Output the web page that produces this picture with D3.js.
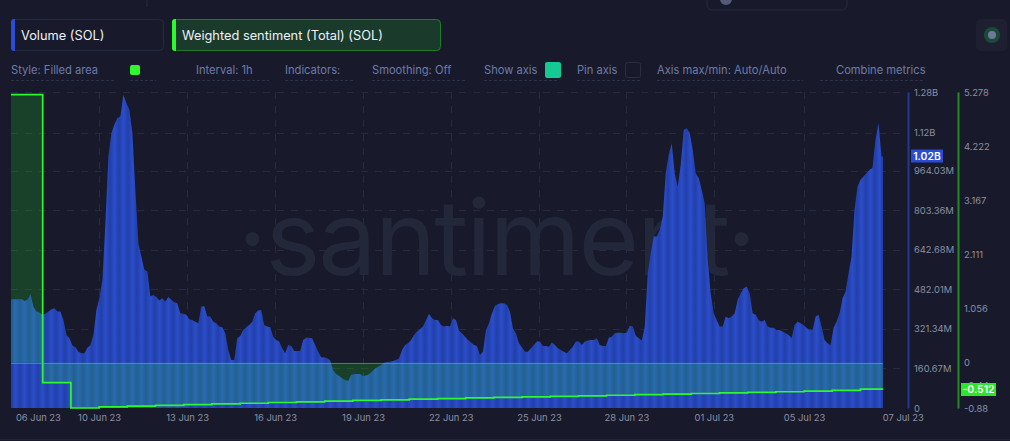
<!DOCTYPE html>
<html><head><meta charset="utf-8">
<script src="https://cdn.jsdelivr.net/npm/d3@7"></script>
<style>
html,body{margin:0;padding:0;background:#181a2b;overflow:hidden}
svg{display:block}
text{font-family:Inter,"Noto Sans",sans-serif}
</style></head><body><svg id="c" width="1010" height="441"></svg>
<script>
// Hourly-ish volume readings in millions of SOL
const volumeA=[442,442,442,443,435,440,464,412,392,388,379,383,392,402,406,392,392,358,297,284,254,247,229,223,223,245,256,297,399,446,521,752,1022,1118,1152,1179,1186,1274,1240,1213,1118,887,670,616,562,555,453,460,451,437,446,433,451,440,430,426,385,383,379,361,358,351,345,412,415,372,372,351,345,331,328,304,236,195,195];
const volumeB=[284,293,317,328,338,351,385,396,399,338,331,328,290,277,270,243,223,256,252,232,232,232,277,286,286,284,256,229,206,206,202,193,155,138,130,121,114,110,134,138,138,138,130,132,138,148,161,168,175,184,187,188,191,195,202,236,256,263,277,297,311,320,331,358,383,365,358,358,338,331,334,331,365];
const volumeC=[358,315,304,290,277,266,256,252,216,229,317,345,385,415,423,426,426,419,392,324,304,263,247,229,229,243,256,270,270,252,252,249,266,256,243,236,229,223,236,249,270,270,256,270,274,277,277,284,256,252,252,286,290,304,306,306,304,306,334,331,294,284,274];
const volumeD=[331,548,630,697,697,724,779,955,1030,1077,955,901,989,1131,1138,1118,1050,955,935,887,833,602,467,385,358,331,331,372,365,372,385,440,467,487,494,467,385,379,358,351,358,331,326,326,317,317,311,304,297,284,338,351,345,338,326,317,317,372,379,331,277,263,256,326,351,385,446,473,548,616,806,901,928,941,955,969,976,1091,1159,1023];
const volume=[...volumeA,...volumeB,...volumeC,...volumeD];
// Daily weighted sentiment readings
const sentiment=[5.226,-0.387,-0.88,-0.859,-0.845,-0.828,-0.814,-0.801,-0.787,-0.773,-0.76,-0.746,-0.732,-0.721,-0.708,-0.696,-0.684,-0.673,-0.663,-0.653,-0.643,-0.632,-0.62,-0.608,-0.597,-0.585,-0.575,-0.563,-0.55,-0.537,-0.512];
// Axis ticks
const dateTickDays=[0.83,3,6.12,9.24,12.36,15.47,18.6,21.7,24.8,28,31.5];
const dateTickLabels=["06 Jun 23","10 Jun 23","13 Jun 23","16 Jun 23","19 Jun 23","22 Jun 23","25 Jun 23","28 Jun 23","01 Jul 23","05 Jul 23","07 Jul 23"];
const volumeTicks=[0,160.67,321.34,482.01,642.68,803.36,964.03,1120,1285];
const volumeTickLabels=["0","160.67M","321.34M","482.01M","642.68M","803.36M","964.03M","1.12B","1.28B"];
const sentimentTicks=[-0.88,-0.44,0,1.056,2.111,3.167,4.222,5.278];
const sentimentTickLabels=["-0.88","-0.44","0","1.056","2.111","3.167","4.222","5.278"];
// Header texts
const metricNames=["Volume (SOL)","Weighted sentiment (Total) (SOL)"];
const controlLabels=["Style: Filled area","Interval: 1h","Indicators:","Smoothing: Off","Show axis","Pin axis","Axis max/min: Auto/Auto","Combine metrics"];
const controlX=[11,196,285,372,484,577,657,836];
const underlines=[[11,114],[130,156],[172,269],[285,355],[372,467],[484,559],[577,640],[657,803],[820,925]];

const L=11,R=883,T=92,B=408;
const svg=d3.select("#c");
svg.append("rect").attr("width",1010).attr("height",441).attr("fill","#181a2b");

// stripe pattern for the volume fill
const defs=svg.append("defs");
const lg=defs.append("linearGradient").attr("id","sg");
[["0%","#2240ab"],["50%","#2b4dc8"],["100%","#2240ab"]].forEach(s=>lg.append("stop").attr("offset",s[0]).attr("stop-color",s[1]));
defs.append("pattern").attr("id","stripes").attr("patternUnits","userSpaceOnUse").attr("width",9).attr("height",10).attr("x",11)
  .append("rect").attr("width",9).attr("height",10).attr("fill","url(#sg)");

// decoration at top
svg.append("line").attr("x1",147).attr("x2",147).attr("y1",0).attr("y2",7).attr("stroke","#262a3e");
svg.append("rect").attr("x",707).attr("y",-20).attr("width",140).attr("height",30).attr("rx",5).attr("fill","none").attr("stroke","#262a3e");
svg.append("circle").attr("cx",726).attr("cy",-1).attr("r",6).attr("fill","#555b75");
svg.append("rect").attr("x",976).attr("y",19).attr("width",31).attr("height",32).attr("rx",5).attr("fill","#1e2032");
svg.append("circle").attr("cx",992).attr("cy",35).attr("r",8).attr("fill","#1b4a3a");
svg.append("circle").attr("cx",992).attr("cy",35).attr("r",4).attr("fill","#6f7896");
svg.append("line").attr("x1",0).attr("x2",1010).attr("y1",439.5).attr("y2",439.5).attr("stroke","#22253a");

// metric buttons
const btn=[{x:11,w:153,f:"none",s:"#252a3e",c:"#2b4cd6"},{x:172,w:269,f:"#1a3a2c",s:"#1f7d27",c:"#2dfa2d"}];
btn.forEach((b,i)=>{
  svg.append("rect").attr("x",b.x+.5).attr("y",19.5).attr("width",b.w-1).attr("height",31).attr("rx",4).attr("fill",b.f).attr("stroke",b.s);
  svg.append("path").attr("d",`M${b.x+4},19 h-1 a3,3 0 0 0 -3,3 v26 a3,3 0 0 0 3,3 h1 z`).attr("fill",b.c);
  svg.append("text").attr("x",b.x+10).attr("y",40).attr("font-size",12.8).attr("fill","#eef1f8").text(metricNames[i]);
});
// control row
svg.selectAll(".ctl").data(controlLabels).join("text").attr("class","ctl")
  .attr("x",(d,i)=>controlX[i]).attr("y",74).attr("font-size",11.15).attr("fill","#6f7ba6").text(d=>d);
svg.selectAll(".ul").data(underlines).join("line").attr("class","ul")
  .attr("x1",d=>d[0]).attr("x2",d=>d[1]).attr("y1",80.5).attr("y2",80.5)
  .attr("stroke","#2c3149").attr("stroke-dasharray","3 2");
svg.append("rect").attr("x",130).attr("y",65).attr("width",10).attr("height",10).attr("rx",2).attr("fill","#2dfa2d");
svg.append("rect").attr("x",545).attr("y",62).attr("width",16).attr("height",16).attr("rx",2).attr("fill","#14c993");
svg.append("rect").attr("x",625.5).attr("y",62.5).attr("width",15).attr("height",15).attr("rx",2).attr("fill","none").attr("stroke","#2a2e42");

// scales
const xBar=d3.scalePoint().domain(d3.range(volume.length)).range([L+1.5,R-1.5]);
const xDay=d3.scaleLinear().domain([-0.124,30.8]).range([L,R]);
const yVol=d3.scaleLinear().domain([0,1285]).range([B,T]);
const ySen=d3.scaleLinear().domain([-0.88,5.278]).range([B,T]);

// grid
const grid=svg.append("g").attr("stroke","#262a3e").attr("stroke-dasharray","7 7");
grid.selectAll(".h").data(volumeTicks.slice(1)).join("line").attr("class","h")
  .attr("x1",L).attr("x2",905).attr("y1",d=>Math.round(yVol(d))+.5).attr("y2",d=>Math.round(yVol(d))+.5);
grid.selectAll(".v").data(dateTickDays.slice(1,-1)).join("line").attr("class","v")
  .attr("y1",T).attr("y2",B).attr("x1",d=>Math.round(xDay(d))+.5).attr("x2",d=>Math.round(xDay(d))+.5);

// watermark
svg.append("text").attr("x",496).attr("y",275).attr("text-anchor","middle").attr("font-size",104).attr("font-weight",400)
  .attr("letter-spacing",-2).attr("fill","#22273a").text("·santiment·");

// volume area
svg.append("path").datum(volume).attr("fill","url(#stripes)")
  .attr("d",d3.area().x((d,i)=>xBar(i)).y0(B).y1(d=>yVol(d)));
svg.append("rect").attr("x",L).attr("width",2).attr("y",yVol(volume[0])).attr("height",B-yVol(volume[0])).attr("fill","#2240ab");
svg.append("rect").attr("x",R-2).attr("width",2).attr("y",yVol(volume[volume.length-1])).attr("height",B-yVol(volume[volume.length-1])).attr("fill","#2240ab");

// sentiment
const senPts=sentiment.map((v,i)=>({d:i===0?xDay.domain()[0]:i,v}));
senPts.push({d:xDay.domain()[1],v:sentiment[sentiment.length-1]});
svg.append("path").datum(senPts).attr("fill","#26ff26").attr("fill-opacity",.17)
  .attr("d",d3.area().curve(d3.curveStepAfter).x(d=>xDay(d.d)).y0(ySen(0)).y1(d=>ySen(d.v)));
svg.append("line").attr("x1",L).attr("x2",R).attr("y1",Math.round(ySen(0))+.5).attr("y2",Math.round(ySen(0))+.5)
  .attr("stroke","#3fd06a").attr("stroke-opacity",.55);
svg.append("path").datum(senPts).attr("fill","none").attr("stroke","#2dfa2d").attr("stroke-width",1.7)
  .attr("d",d3.line().curve(d3.curveStepAfter).x(d=>xDay(d.d)).y(d=>ySen(d.v)));

// axes
function style(g,col){
  g.select(".domain").attr("stroke",col).attr("stroke-width",2);
  g.selectAll(".tick line").remove();
  g.selectAll("text").attr("fill","#8b90a3").attr("font-size",9.4).attr("font-family","Inter,sans-serif");
}
const axV=d3.axisRight(yVol).tickValues(volumeTicks).tickSizeOuter(0).tickSize(0).tickPadding(6)
  .tickFormat((d,i)=>volumeTickLabels[i]);
svg.append("g").attr("transform","translate(908,0)").call(axV).call(style,"#22398f");
const axS=d3.axisRight(ySen).tickValues(sentimentTicks).tickSizeOuter(0).tickSize(0).tickPadding(6)
  .tickFormat((d,i)=>sentimentTickLabels[i]);
svg.append("g").attr("transform","translate(958,0)").call(axS).call(style,"#218a22");
const axX=d3.axisBottom(xDay).tickValues(dateTickDays).tickSize(0).tickPadding(6)
  .tickFormat((d,i)=>dateTickLabels[i]);
const gx=svg.append("g").attr("transform",`translate(0,${B})`).call(axX);
gx.select(".domain").remove();
gx.selectAll("text").attr("fill","#8b90a3").attr("font-size",9.4).attr("font-family","Inter,sans-serif");

// value badges
function badge(x,w,y,fill,t){
  svg.append("rect").attr("x",x).attr("y",y).attr("width",w).attr("height",13).attr("fill",fill);
  svg.append("text").attr("x",x+w/2).attr("y",y+10).attr("text-anchor","middle").attr("font-size",10.4).attr("font-weight",600).attr("fill","#fff").text(t);
}
badge(911,32,149.5,"#2a4bd2",d3.format(".2f")(volume[volume.length-1]/1000)+"B");
badge(961,35,383,"#2be62b",String(sentiment[sentiment.length-1]));
</script></body></html>
